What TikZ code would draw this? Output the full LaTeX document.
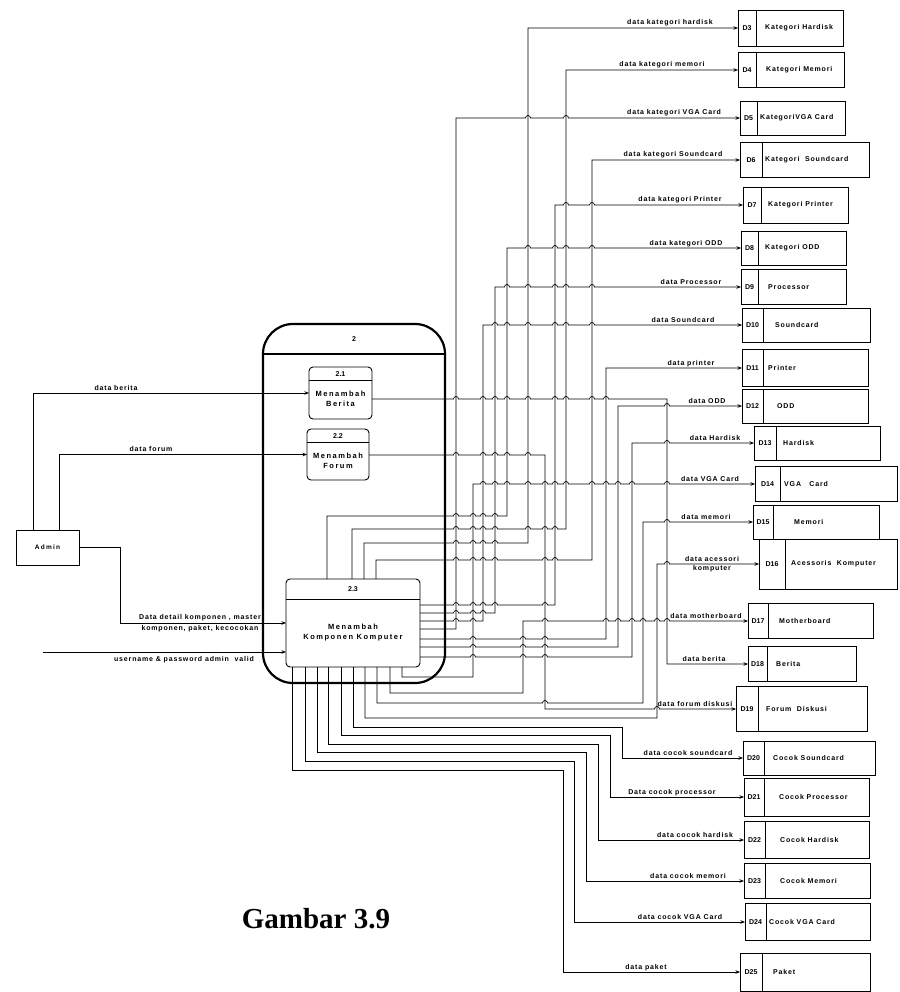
\documentclass[tikz,border=0pt]{standalone}
\usepackage{fontspec}
\setmainfont{Liberation Sans}
\newfontfamily\capfont{Liberation Serif}
\newfontfamily\lblfont[LetterSpace=12]{Liberation Sans}
\newfontfamily\ptfont[LetterSpace=20]{Liberation Sans}
\usetikzlibrary{arrows.meta}

% line hops: a small bump at each listed x on a horizontal run at height #1
\newcommand\hops[2]{\foreach \h in {#2}{ -- ({\h-2.5},#1) arc[start angle=180,end angle=0,radius=2.5pt]}}

% data store: name, x left, x divider, x right, y centre, height, id, title, title x
\newcommand\store[9]{%
  \node[storebox, minimum width={(#4-#2)*1pt}, minimum height={#6*1pt}, anchor=west] (#1) at (#2,#5) {};
  \draw[storeline] (#3,{#5-#6/2}) -- (#3,{#5+#6/2});
  \node[sid] at ({(#2+#3)/2},#5) {#7};
  \node[sname] at (#9,#5) {#8};
}

\tikzset{
  flow/.style={line width=0.7pt},
  arr/.style={-{Stealth[length=4.5pt,width=3.5pt]}},
  storebox/.style={draw, line width=0.9pt, inner sep=0pt, outer sep=0pt},
  storeline/.style={line width=0.9pt},
  sid/.style={font=\bfseries\fontsize{7}{8}\selectfont, inner sep=0pt},
  sname/.style={font=\lblfont\bfseries\fontsize{7}{8}\selectfont, inner sep=0pt, anchor=west},
  lbl/.style={font=\lblfont\bfseries\fontsize{7}{8}\selectfont, inner sep=0pt, anchor=base},
  lbl2/.style={font=\lblfont\bfseries\fontsize{7}{11}\selectfont, inner sep=0pt, align=center},
  proc/.style={draw, line width=0.9pt, rounded corners=4pt, inner sep=0pt, outer sep=0pt},
  ptext/.style={font=\ptfont\bfseries\fontsize{7.5}{10}\selectfont, inner sep=0pt, align=center},
  pnum/.style={font=\bfseries\fontsize{7}{8}\selectfont, inner sep=0pt},
}

\begin{document}
\begin{tikzpicture}[x=1pt,y=-1pt]
\useasboundingbox (0,0) rectangle (899,992);
\fill[white] (0,0) rectangle (899,992);

% ---------- external entity ----------
\node[draw, line width=0.9pt, minimum width=63pt, minimum height=35pt, inner sep=0pt, outer sep=0pt,
      font=\ptfont\bfseries\fontsize{6.5}{8}\selectfont] (admin) at (47.5,547.5) {Admin};

% ---------- process 2 and its sub-processes ----------
\node[draw, line width=2.2pt, rounded corners=30pt, minimum width=182pt, minimum height=359pt,
      inner sep=0pt, outer sep=0pt] (p2) at (354,503.5) {};
\draw[line width=1.8pt] (p2.west |- 0,354) -- (p2.east |- 0,354);
\node[pnum] at (354,339) {2};

\node[proc, minimum width=63pt, minimum height=52pt] (p21) at (340.5,393) {};
\draw[line width=0.8pt] (p21.west |- 0,380) -- (p21.east |- 0,380);
\node[pnum] at (340.5,374) {2.1};
\node[ptext] at (340.5,399) {Menambah\\Berita};

\node[proc, minimum width=62pt, minimum height=51pt] (p22) at (338,454.5) {};
\draw[line width=0.8pt] (p22.west |- 0,442) -- (p22.east |- 0,442);
\node[pnum] at (338,436) {2.2};
\node[ptext] at (338,461) {Menambah\\Forum};

\node[proc, minimum width=134pt, minimum height=88pt] (p23) at (353,623) {};
\draw[line width=0.8pt] (p23.west |- 0,599) -- (p23.east |- 0,599);
\node[pnum] at (353,589) {2.3};
\node[ptext] at (353,632.5) {Menambah\\Komponen Komputer};

% ---------- data stores ----------
\store{s3}{738}{756}{843}{28}{36}{D3}{Kategori Hardisk}{765}
\store{s4}{738}{756}{844}{70}{35}{D4}{Kategori Memori}{766}
\store{s5}{740}{757}{845}{118}{34}{D5}{KategoriVGA Card}{760}
\store{s6}{740}{762}{869}{160}{35}{D6}{Kategori \ Soundcard}{765}
\store{s7}{743}{761}{848}{205}{36}{D7}{Kategori Printer}{768}
\store{s8}{741}{758}{846}{248}{34}{D8}{Kategori ODD}{765}
\store{s9}{741}{758}{846}{287}{35}{D9}{Processor}{768}
\store{s10}{742}{763}{870}{325}{34}{D10}{Soundcard}{775}
\store{s11}{742}{763}{868}{368}{37}{D11}{Printer}{768}
\store{s12}{742}{763}{868}{406}{34}{D12}{ODD}{777}
\store{s13}{754}{776}{880}{443}{34}{D13}{Hardisk}{783}
\store{s14}{755}{780}{897}{484}{35}{D14}{VGA \ \ Card}{784}
\store{s15}{753}{773}{879}{522}{34}{D15}{Memori}{794}
\store{s16}{759}{785}{897}{564}{50}{D16}{Acessoris \ Komputer}{791}
\store{s17}{748}{768}{873}{621}{35}{D17}{Motherboard}{779}
\store{s18}{748}{767}{856}{664}{35}{D18}{Berita}{776}
\store{s19}{736}{758}{867}{709}{45}{D19}{Forum \ Diskusi}{766}
\store{s20}{743}{764}{875}{758}{34}{D20}{Cocok Soundcard}{773}
\store{s21}{744}{764}{869}{797}{38}{D21}{Cocok Processor}{779}
\store{s22}{744}{765}{869}{840}{37}{D22}{Cocok Hardisk}{780}
\store{s23}{744}{765}{870}{881}{35}{D23}{Cocok Memori}{780}
\store{s24}{745}{766}{870}{922}{37}{D24}{Cocok VGA Card}{769}
\store{s25}{740}{762}{870}{972}{38}{D25}{Paket}{773}

% ---------- flows from Admin ----------
\draw[flow,arr] (admin.north -| 33,0) |- (p21.west);
\draw[flow,arr] (admin.north -| 59,0) |- (p22.west);
\draw[flow,arr] (admin.east) -- (120,0 |- admin.east) |- (p23.west);
\coordinate (uin) at (43,652);
\draw[flow,arr] (uin) -- (uin -| p23.west);

\node[lbl] at (116,390) {data berita};
\node[lbl] at (151,451.5) {data forum};
\node[lbl2] at (200,623) {Data detail komponen , master\\komponen, paket, kecocokan};
\node[lbl, anchor=north] at (184,656) {username \& password admin \ valid};

% ---------- flows from 2.1 and 2.2 ----------
\draw[flow,arr] (p21.east |- 0,399) \hops{399}{456,483,495,507,528,555,566,592,606} -- (667,399) |- (s18.west);
\draw[flow,arr] (p22.east |- 0,455) \hops{455}{456,483,495,507,528} -- (545,455) -- (545,709) \hops{709}{657} -- (s19.west);

% ---------- flows from 2.3, top side ----------
\draw[flow,arr] (327,0 |- p23.north) -- (327,516) \hops{516}{456,473,483,495} -- (507,516) -- (507,248) \hops{248}{528,555,566,592} -- (s8.west);
\draw[flow,arr] (352,0 |- p23.north) -- (352,529) \hops{529}{456,473,483,495,528,545,555} -- (566,529) |- (s4.west);
\draw[flow,arr] (364,0 |- p23.north) -- (364,543) \hops{543}{456,473,483,495} -- (528,543) |- (s3.west);
\draw[flow,arr] (376,0 |- p23.north) -- (376,560) \hops{560}{456,473,483,495,545,555} -- (592,560) |- (s6.west);

% ---------- flows from 2.3, right side ----------
\draw[flow,arr] (p23.east |- 0,605) \hops{605}{456,473,483,495,545} -- (555,605) -- (555,205) \hops{205}{566,592} -- (s7.west);
\draw[flow,arr] (p23.east |- 0,613) \hops{613}{456,473,483} -- (495,613) -- (495,287) \hops{287}{507,528,555,566,592} -- (s9.west);
\draw[flow,arr] (p23.east |- 0,621) \hops{621}{456,473} -- (483,621) -- (483,325) \hops{325}{495,507,528,555,566,592} -- (s10.west);
\draw[flow,arr] (p23.east |- 0,629) -- (456,629) -- (456,118) \hops{118}{528,566} -- (s5.west);
\draw[flow,arr] (p23.east |- 0,639) \hops{639}{473,523,545} -- (606,639) |- (s11.west);
\draw[flow,arr] (p23.east |- 0,647) \hops{647}{473,523,545} -- (618,647) -- (618,406) \hops{406}{667} -- (s12.west);
\draw[flow,arr] (p23.east |- 0,657) \hops{657}{473,523,545} -- (632,657) -- (632,443) \hops{443}{667} -- (s13.west);

% ---------- flows from 2.3, bottom side ----------
\draw[flow,arr] (402,0 |- p23.south) -- (402,677) -- (473,677) -- (473,484) \hops{484}{483,495,507,528,545,555,566,592,606,618,632,667} -- (s14.west);
\draw[flow,arr] (390,0 |- p23.south) -- (390,693) -- (523,693) -- (523,621) \hops{621}{545,606,618,632,643,657,667} -- (s17.west);
\draw[flow,arr] (377,0 |- p23.south) -- (377,703) \hops{703}{545} -- (643,703) -- (643,522) \hops{522}{667} -- (s15.west);
\draw[flow,arr] (365,0 |- p23.south) -- (365,718) -- (657,718) -- (657,564) \hops{564}{667} -- (s16.west);
\draw[flow,arr] (353,0 |- p23.south) |- (622,727) |- (s20.west);
\draw[flow,arr] (341,0 |- p23.south) |- (610,735) |- (s21.west);
\draw[flow,arr] (328,0 |- p23.south) |- (598,744) |- (s22.west);
\draw[flow,arr] (317,0 |- p23.south) |- (586,752) |- (s23.west);
\draw[flow,arr] (305,0 |- p23.south) |- (574,761) |- (s24.west);
\draw[flow,arr] (292,0 |- p23.south) |- (563,770) |- (s25.west);

% ---------- flow labels ----------
\node[lbl] at (670,25) {data kategori hardisk};
\node[lbl] at (662,67) {data kategori memori};
\node[lbl] at (674,115) {data kategori VGA Card};
\node[lbl] at (673,157) {data kategori Soundcard};
\node[lbl] at (680,202) {data kategori Printer};
\node[lbl] at (686,245) {data kategori ODD};
\node[lbl] at (691,284) {data Processor};
\node[lbl] at (683,322) {data Soundcard};
\node[lbl] at (691,365) {data printer};
\node[lbl] at (707,403) {data ODD};
\node[lbl] at (715,440) {data Hardisk};
\node[lbl] at (710,481) {data VGA Card};
\node[lbl] at (706,519) {data memori};
\node[lbl2, font=\lblfont\bfseries\fontsize{7}{9}\selectfont] at (712,564) {data acessori\\komputer};
\node[lbl] at (706,618) {data motherboard};
\node[lbl] at (704,661) {data berita};
\node[lbl] at (695,706) {data forum diskusi};
\node[lbl] at (688,755) {data cocok soundcard};
\node[lbl] at (672,794) {Data cocok processor};
\node[lbl] at (695,837) {data cocok hardisk};
\node[lbl] at (688,878) {data cocok memori};
\node[lbl] at (680,919) {data cocok VGA Card};
\node[lbl] at (646,969) {data paket};

% ---------- caption ----------
\node[font=\capfont\bfseries\fontsize{29}{34}\selectfont, inner sep=0pt] at (316,919) {Gambar 3.9};
\end{tikzpicture}
\end{document}
